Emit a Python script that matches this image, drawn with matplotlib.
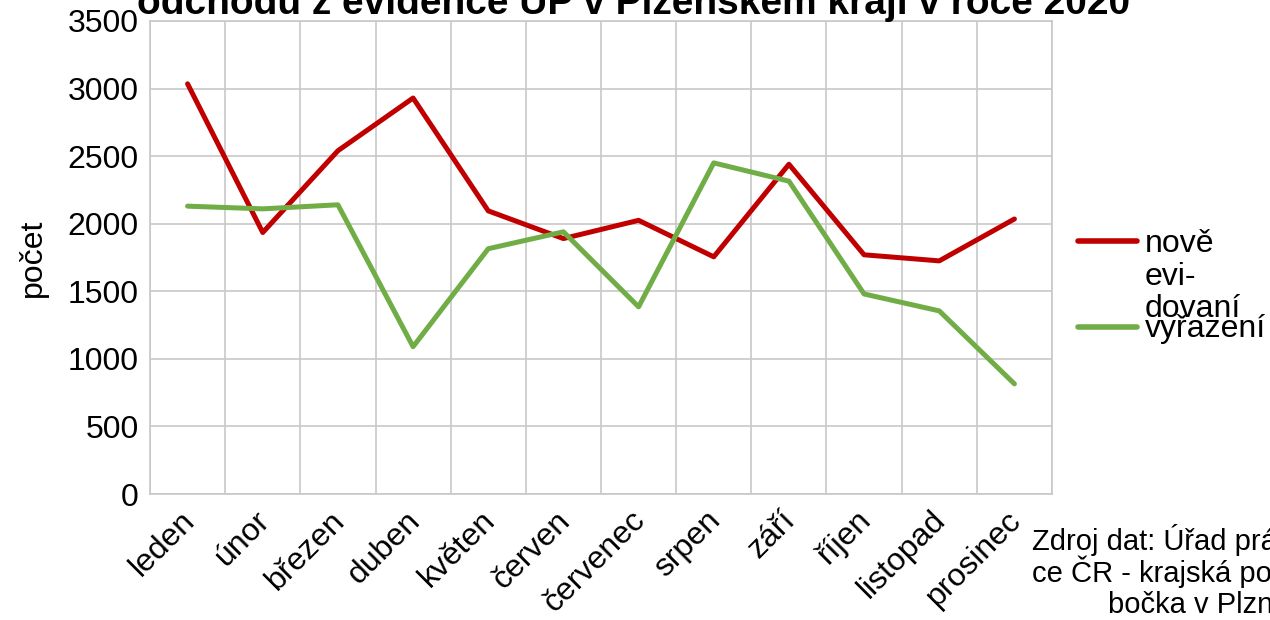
import matplotlib.pyplot as plt
from matplotlib.lines import Line2D

plt.rcParams['font.family'] = ['Liberation Sans', 'DejaVu Sans']

mesice = ['leden', 'únor', 'březen', 'duben', 'květen', 'červen',
          'červenec', 'srpen', 'září', 'říjen', 'listopad', 'prosinec']
nove_evidovani = [3035, 1935, 2540, 2930, 2095, 1890, 2025, 1755, 2440, 1770, 1725, 2035]
vyrazeni = [2130, 2110, 2140, 1090, 1815, 1940, 1385, 2450, 2315, 1480, 1355, 815]

RED = '#C00000'
GREEN = '#70AD47'
FS = 23
W, H = 1270, 620


def fx(px):
    return px / W


def fy(py):
    return 1 - py / H


fig = plt.figure(figsize=(12.7, 6.2), dpi=100)
ax = fig.add_axes([fx(150), fy(494), (1052 - 150) / W, (494 - 21) / H])

x = [i + 0.5 for i in range(len(mesice))]
ax.plot(x, nove_evidovani, color=RED, lw=3.6, solid_capstyle='round')
ax.plot(x, vyrazeni, color=GREEN, lw=3.6, solid_capstyle='round')

ax.set_xlim(0, 12)
ax.set_ylim(0, 3500)
ax.set_yticks(range(0, 3501, 500))
ax.set_xticks(range(13), minor=False)
ax.set_xticklabels([])
ax.set_xticks(x, minor=True)
ax.set_xticklabels(mesice, minor=True, rotation=45, ha='right', va='center_baseline',
                   rotation_mode='anchor', fontsize=FS)
ax.tick_params(axis='x', which='both', length=0, pad=14)
ax.tick_params(axis='y', length=0, labelsize=FS, pad=8)
ax.grid(True, which='major', color='#C8C8C8', lw=1.2)
ax.set_axisbelow(True)
for s in ax.spines.values():
    s.set_color('#C8C8C8')
    s.set_linewidth(1.2)
ax.set_ylabel('počet', fontsize=FS, labelpad=14)

# nadpis (oříznutý nahoře)
fig.text(fx(634), 1.0, 'odchodu z evidence ÚP v Plzeňském kraji v roce 2020',
         ha='center', va='center', fontsize=28, fontweight='bold')

# legenda
fig.add_artist(Line2D([fx(1078), fx(1137)], [fy(241)] * 2,
                      color=RED, lw=4, solid_capstyle='round'))
fig.add_artist(Line2D([fx(1078), fx(1137)], [fy(327)] * 2,
                      color=GREEN, lw=4, solid_capstyle='round'))
for radek, yb in zip(['nově', 'evi-', 'dovaní'], [252, 285, 317]):
    fig.text(fx(1145), fy(yb), radek, ha='left', va='baseline', fontsize=FS)
fig.text(fx(1145), fy(337), 'vyřazení', ha='left', va='baseline', fontsize=FS)

# zdroj
zdroj = ['Zdroj dat: Úřad prá-', 'ce ČR - krajská po-', 'bočka v Plzni']
for radek, xl, yb in zip(zdroj, [1032, 1032, 1108], [550, 582, 613]):
    fig.text(fx(xl), fy(yb), radek, ha='left', va='baseline', fontsize=21)

fig.savefig('out.png', dpi=100)
